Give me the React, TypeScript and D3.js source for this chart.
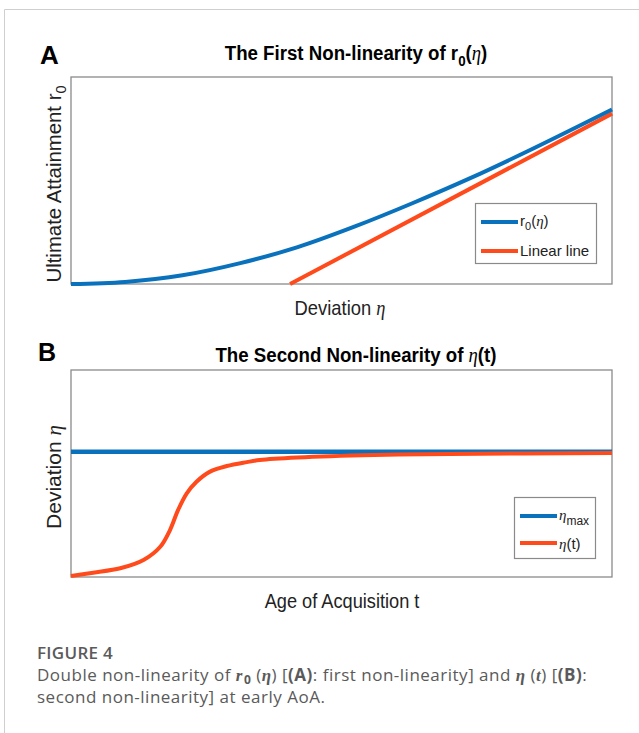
import React from 'react';
import * as d3 from 'd3';

// Panel A: first non-linearity, r0(eta) vs deviation (normalised units)
const deviationA = [0, 0.1, 0.206, 0.313, 0.419, 0.525, 0.631, 0.737, 0.843, 1];
const r0Values = [0, 0.01, 0.042, 0.101, 0.178, 0.278, 0.39, 0.51, 0.64, 0.843];
const linearX = [0.405, 1];
const linearY = [0, 0.823];

// Panel B: second non-linearity, eta(t) vs age of acquisition
const ageB = [0, 0.041, 0.091, 0.134, 0.165, 0.183, 0.198, 0.214, 0.232, 0.257, 0.288, 0.325, 0.349, 0.419, 0.56, 0.7, 1];
const etaValues = [0.005, 0.021, 0.042, 0.082, 0.146, 0.227, 0.324, 0.404, 0.46, 0.509, 0.536, 0.555, 0.565, 0.577, 0.589, 0.594, 0.599];
const etaMax = 0.605;

const BLUE = '#0a72bd';
const RED = '#ff4a1c';
const SANS = '"Liberation Sans", Arial, Helvetica, sans-serif';
const SERIF = '"Liberation Serif", "Times New Roman", serif';

const left = 71;
const right = 612;

const xA = d3.scaleLinear().domain([0, 1]).range([left, right]);
const yA = d3.scaleLinear().domain([0, 1]).range([284, 77]);
const xB = d3.scaleLinear().domain([0, 1]).range([left, right]);
const yB = d3.scaleLinear().domain([0, 1]).range([577, 370]);

const Eta = ({ bold = false }: { bold?: boolean }) => (
  <tspan fontFamily={SERIF} fontStyle="italic" fontWeight={bold ? 'bold' : 'normal'}>η</tspan>
);

export default function App() {
  const lineA = d3.line<number>().x((d, i) => xA(deviationA[i])).y(d => yA(d)).curve(d3.curveCatmullRom);
  const linLine = d3.line<number>().x((d, i) => xA(linearX[i])).y(d => yA(d));
  const lineB = d3.line<number>().x((d, i) => xB(ageB[i])).y(d => yB(d)).curve(d3.curveCatmullRom.alpha(0.5));

  const axisStroke = '#8a8a8a';

  return (
    <svg width={639} height={733} style={{ position: 'absolute', left: 0, top: 0, background: '#fff' }} fontFamily={SANS}>
      {/* figure frame */}
      <line x1={4.5} x2={4.5} y1={9.5} y2={733} stroke="#cfcfcf" />
      <line x1={4.5} x2={639} y1={9.5} y2={9.5} stroke="#cfcfcf" />

      {/* ---------- Panel A ---------- */}
      <text x={40} y={64} fontSize={26} fontWeight="bold">A</text>
      <g transform="translate(356,60) scale(0.89,1)">
        <text x={0} y={0} fontSize={21} fontWeight="bold" textAnchor="middle">
          The First Non-linearity of r<tspan dy={6} fontSize={15}>0</tspan>
          <tspan dy={-6}>(</tspan><Eta />)
        </text>
      </g>
      <rect x={left} y={77} width={right - left} height={207} fill="none" stroke={axisStroke} strokeWidth={1.3} />
      <path d={linLine(linearY) || ''} fill="none" stroke={RED} strokeWidth={4} />
      <path d={lineA(r0Values) || ''} fill="none" stroke={BLUE} strokeWidth={4} />
      <g transform="translate(340,315) scale(0.92,1)">
        <text x={0} y={0} fontSize={20} textAnchor="middle" fill="#222">
          Deviation <Eta />
        </text>
      </g>
      <g transform="translate(61,184) rotate(-90) scale(0.97,1)">
        <text x={0} y={0} fontSize={21} textAnchor="middle" fill="#222">
          Ultimate Attainment r<tspan dy={5} fontSize={15}>0</tspan>
        </text>
      </g>
      {/* legend A */}
      <rect x={475.5} y={203.5} width={121} height={60} fill="#fff" stroke={axisStroke} strokeWidth={1.2} />
      <line x1={481} x2={518} y1={222} y2={222} stroke={BLUE} strokeWidth={4} />
      <line x1={481} x2={518} y1={251} y2={251} stroke={RED} strokeWidth={4} />
      <text x={520} y={226} fontSize={15} fill="#222">
        r<tspan dy={4} fontSize={11}>0</tspan><tspan dy={-4}>(</tspan><Eta />)
      </text>
      <text x={520} y={256} fontSize={15} fill="#222">Linear line</text>

      {/* ---------- Panel B ---------- */}
      <text x={38} y={361} fontSize={25} fontWeight="bold">B</text>
      <g transform="translate(356,362) scale(0.89,1)">
        <text x={0} y={0} fontSize={21} fontWeight="bold" textAnchor="middle">
          The Second Non-linearity of <Eta />(t)
        </text>
      </g>
      <rect x={left} y={370} width={right - left} height={207} fill="none" stroke={axisStroke} strokeWidth={1.3} />
      <line x1={xB(0)} x2={xB(1)} y1={yB(etaMax)} y2={yB(etaMax)} stroke={BLUE} strokeWidth={4.5} />
      <path d={lineB(etaValues) || ''} fill="none" stroke={RED} strokeWidth={4} />
      <g transform="translate(342,608) scale(0.91,1)">
        <text x={0} y={0} fontSize={20} textAnchor="middle" fill="#222">Age of Acquisition t</text>
      </g>
      <text transform="translate(61,477) rotate(-90)" fontSize={21} textAnchor="middle" fill="#222">
        Deviation <Eta />
      </text>
      {/* legend B */}
      <rect x={514.5} y={497.5} width={81} height={61} fill="#fff" stroke={axisStroke} strokeWidth={1.2} />
      <line x1={520} x2={557} y1={516} y2={516} stroke={BLUE} strokeWidth={4} />
      <line x1={520} x2={557} y1={543} y2={543} stroke={RED} strokeWidth={4} />
      <text x={559} y={520} fontSize={15} fill="#222">
        <Eta /><tspan dy={5} fontSize={12}>max</tspan>
      </text>
      <text x={559} y={549} fontSize={15} fill="#222">
        <Eta />(t)
      </text>

      {/* ---------- Caption ---------- */}
      <g fontFamily='"Open Sans", "Noto Sans", sans-serif' fill="#5a5a5a" fontSize={17} letterSpacing={0.5}>
        <text x={37} y={659} fontWeight="600" letterSpacing={0.3}>FIGURE 4</text>
        <text x={37} y={681}>
          Double non-linearity of <tspan fontFamily={SERIF} fontStyle="italic" fontWeight="bold">r</tspan><tspan dx={1} dy={3} fontSize={12} fontWeight="bold">0</tspan><tspan dy={-3}> (</tspan><Eta bold />) [<tspan fontWeight="bold">(A)</tspan>: first non-linearity] and <Eta bold /> (<tspan fontFamily={SERIF} fontStyle="italic" fontWeight="bold">t</tspan>) [<tspan fontWeight="bold">(B)</tspan>:
        </text>
        <text x={37} y={703}>second non-linearity] at early AoA.</text>
      </g>
    </svg>
  );
}
